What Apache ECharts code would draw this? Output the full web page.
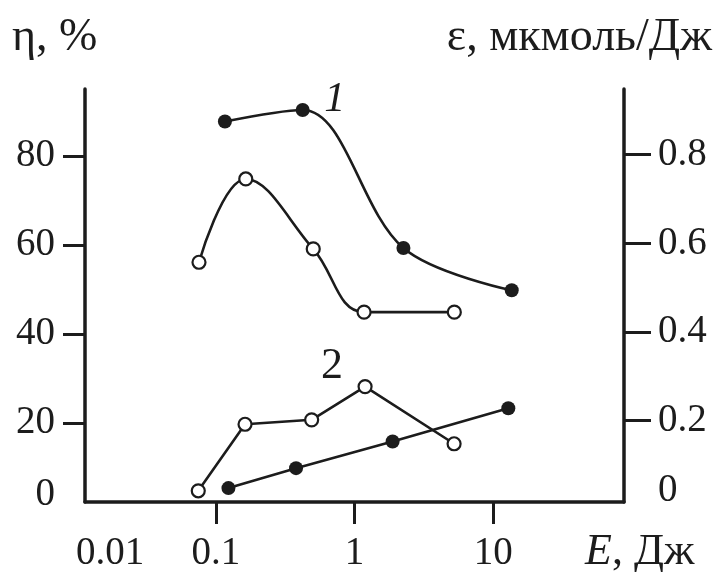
<!DOCTYPE html>
<html><head><meta charset="utf-8">
<script src="https://cdn.jsdelivr.net/npm/echarts@6/dist/echarts.min.js"></script>
<style>html,body{margin:0;padding:0;background:#fff}#c{width:717px;height:572px}</style>
</head><body><div id="c"></div>
<script>
// ---- data ----
// curve 1 (η, %, left axis)
const E_1_filled = [0.116, 0.422, 2.25, 13.6];
const eta_1_filled = [87.7, 90.3, 59.3, 49.8];
const E_1_open = [0.0754, 0.164, 0.503, 1.17, 5.24];
const eta_1_open = [56.1, 74.8, 59.1, 44.9, 44.9];
// curve 2 (ε, мкмоль/Дж, right axis)
const E_2_filled = [0.123, 0.378, 1.88, 12.85];
const eps_2_filled = [0.048, 0.093, 0.153, 0.228];
const E_2_open = [0.0745, 0.162, 0.49, 1.19, 5.22];
const eps_2_open = [0.042, 0.192, 0.202, 0.277, 0.148];

// axis ticks / labels
const xTicks = [0.1, 1, 10];
const xLabelPos = [0.0172, 0.1, 1, 10];
const xLabels = ['0.01', '0.1', '1', '10'];
const yLeftTicks = [20, 40, 60, 80];
const yLeftLabelPos = [3.8, 20, 40, 60, 80];
const yLeftLabels = ['0', '20', '40', '60', '80'];
const yRightTicks = [0.2, 0.4, 0.6, 0.8];
const yRightLabelPos = [0.042, 0.2, 0.4, 0.6, 0.8];
const yRightLabels = ['0', '0.2', '0.4', '0.6', '0.8'];
const xRange = [0.01135, 87.8];
const yLeftRange = [2.27, 95.0];
const yRightRange = [0.0167, 0.948];

// ---- styling ----
const INK = '#1c1c1c';
const FONT = '"Liberation Serif", "DejaVu Serif", serif';
const FS = 39;
const lineStyle = {color: INK, width: 3.5};
const tickStyle = {color: INK, width: 3};

function zip(xs, ys) { return xs.map((x, i) => [x, ys[i]]); }
function lbl(pos, labels) { return v => { let best = 0, d = Infinity; pos.forEach((p, i) => { const dd = Math.abs(p - v); if (dd < d) { d = dd; best = i; } }); return labels[best]; }; }

const filledSym = {symbol: 'circle', symbolSize: 14, itemStyle: {color: INK, borderColor: INK, borderWidth: 0}};
const openSym = {symbol: 'circle', symbolSize: 13, itemStyle: {color: '#fff', borderColor: INK, borderWidth: 2.2}};

const chart = echarts.init(document.getElementById('c'), null, {renderer: 'canvas'});
chart.setOption({
  animation: false,
  backgroundColor: '#fff',
  grid: {left: 85, right: 93, top: 89, bottom: 70, containLabel: false, outerBoundsMode: 'none'},
  xAxis: [
    {type: 'log', logBase: 10, min: xRange[0], max: xRange[1], position: 'bottom',
     axisLine: {show: true, onZero: false, lineStyle: lineStyle}, axisTick: {show: false}, axisLabel: {show: false},
     splitLine: {show: false}, minorTick: {show: false}},
    {type: 'value', min: Math.log10(xRange[0]), max: Math.log10(xRange[1]), position: 'bottom',
     axisLine: {show: false, onZero: false},
     axisTick: {show: true, inside: false, length: 22, lineStyle: tickStyle, customValues: xTicks.map(Math.log10)},
     axisLabel: {show: true, margin: 32, fontFamily: FONT, fontSize: FS, color: INK,
                 customValues: xLabelPos.map(Math.log10), formatter: lbl(xLabelPos.map(Math.log10), xLabels)},
     splitLine: {show: false}}
  ],
  yAxis: [
    {type: 'value', min: yLeftRange[0], max: yLeftRange[1], position: 'left',
     axisLine: {show: true, onZero: false, lineStyle: lineStyle},
     axisTick: {show: true, inside: false, length: 22, lineStyle: tickStyle, customValues: yLeftTicks},
     axisLabel: {show: true, margin: 30, fontFamily: FONT, fontSize: FS, color: INK,
                 customValues: yLeftLabelPos, formatter: lbl(yLeftLabelPos, yLeftLabels)},
     splitLine: {show: false}},
    {type: 'value', min: yRightRange[0], max: yRightRange[1], position: 'right',
     axisLine: {show: true, onZero: false, lineStyle: lineStyle},
     axisTick: {show: true, inside: false, length: 27, lineStyle: tickStyle, customValues: yRightTicks},
     axisLabel: {show: true, margin: 34, fontFamily: FONT, fontSize: FS, color: INK,
                 customValues: yRightLabelPos, formatter: lbl(yRightLabelPos, yRightLabels)},
     splitLine: {show: false}}
  ],
  series: [
    Object.assign({type: 'line', name: '1 filled', xAxisIndex: 0, yAxisIndex: 0, smooth: 0.35,
      data: zip(E_1_filled, eta_1_filled), lineStyle: {color: INK, width: 2.6}, z: 3,
      markPoint: {symbol: 'circle', symbolSize: 1, itemStyle: {color: 'rgba(0,0,0,0)'},
        label: {show: true, position: 'inside', formatter: '1', fontFamily: FONT, fontStyle: 'italic', fontSize: 42, color: INK},
        data: [{coord: [0.72, 92.6]}]}}, filledSym),
    Object.assign({type: 'line', name: '1 open', xAxisIndex: 0, yAxisIndex: 0, smooth: 0.4,
      data: zip(E_1_open, eta_1_open), lineStyle: {color: INK, width: 2.6}, z: 3}, openSym),
    Object.assign({type: 'line', name: '2 filled', xAxisIndex: 0, yAxisIndex: 1, smooth: false,
      data: zip(E_2_filled, eps_2_filled), lineStyle: {color: INK, width: 2.6}, z: 3}, filledSym),
    Object.assign({type: 'line', name: '2 open', xAxisIndex: 0, yAxisIndex: 1, smooth: false,
      data: zip(E_2_open, eps_2_open), lineStyle: {color: INK, width: 2.6}, z: 3,
      markPoint: {symbol: 'circle', symbolSize: 1, itemStyle: {color: 'rgba(0,0,0,0)'},
        label: {show: true, position: 'inside', formatter: '2', fontFamily: FONT, fontSize: 44, color: INK},
        data: [{coord: [0.687, 0.3235]}]}}, openSym)
  ],
  graphic: [
    {type: 'text', left: 12, top: 15, style: {text: 'η, %', fontFamily: FONT, fontSize: 46, fill: INK}},
    {type: 'text', right: 5, top: 15, style: {text: 'ε, мкмоль/Дж', fontFamily: FONT, fontSize: 46, fill: INK}},
    {type: 'text', left: 585, top: 530, style: {
      text: '{i|E}, Дж', fontFamily: FONT, fontSize: 44, fill: INK,
      rich: {i: {fontFamily: FONT, fontStyle: 'italic', fontSize: 44, fill: INK}}}}
  ]
});
</script></body></html>
